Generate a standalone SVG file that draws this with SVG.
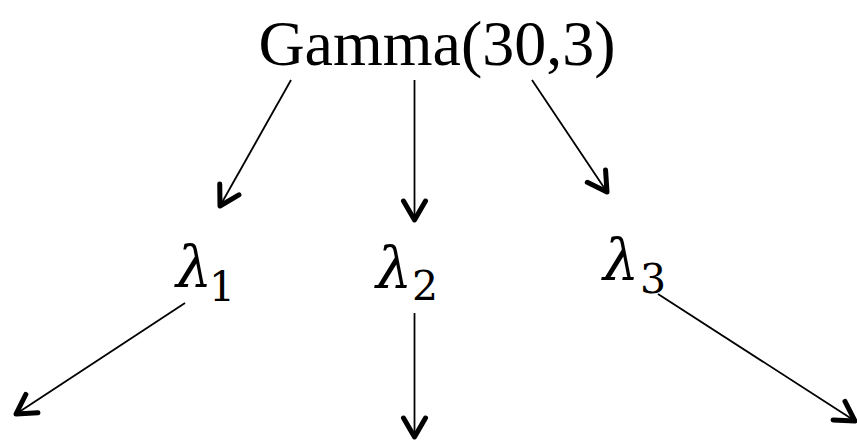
<svg xmlns="http://www.w3.org/2000/svg" width="857" height="441" viewBox="0 0 857 441">
<style>
.title{font-family:"Liberation Serif","Times New Roman",serif;font-size:64px;fill:#000}
.lam{font-family:"DejaVu Serif",serif;font-style:italic;font-size:57px;fill:#000}
.sub{font-family:"DejaVu Serif",serif;font-size:41px;fill:#000}
.edge{stroke:#000;stroke-width:1.8;fill:none;marker-end:url(#ah)}
</style>
<defs>
<marker id="ah" markerUnits="userSpaceOnUse" markerWidth="40" markerHeight="40" viewBox="-30 -20 40 40" refX="0" refY="0" orient="auto">
<path d="M-19,-11 L0,0 L-19,11" fill="none" stroke="#000" stroke-width="5" stroke-linecap="round" stroke-linejoin="round"/>
</marker>
</defs>
<g id="gamma"><text class="title" x="437" y="65" text-anchor="middle">Gamma(30,3)</text></g>
<g id="lambda1"><text x="176" y="287"><tspan class="lam">λ</tspan><tspan class="sub" x="209" y="301">1</tspan></text></g>
<g id="lambda2"><text x="376" y="288"><tspan class="lam">λ</tspan><tspan class="sub" x="412" y="300">2</tspan></text></g>
<g id="lambda3"><text x="603" y="280"><tspan class="lam">λ</tspan><tspan class="sub" x="640" y="293">3</tspan></text></g>
<g id="connectors">
<line class="edge" x1="291" y1="80" x2="220" y2="206"/>
<line class="edge" x1="414.5" y1="80" x2="414.5" y2="220"/>
<line class="edge" x1="532" y1="80" x2="607" y2="192"/>
<line class="edge" x1="185" y1="303" x2="16" y2="414"/>
<line class="edge" x1="414.5" y1="313" x2="414.5" y2="437"/>
<line class="edge" x1="658" y1="294" x2="855" y2="421"/>
</g>
</svg>
